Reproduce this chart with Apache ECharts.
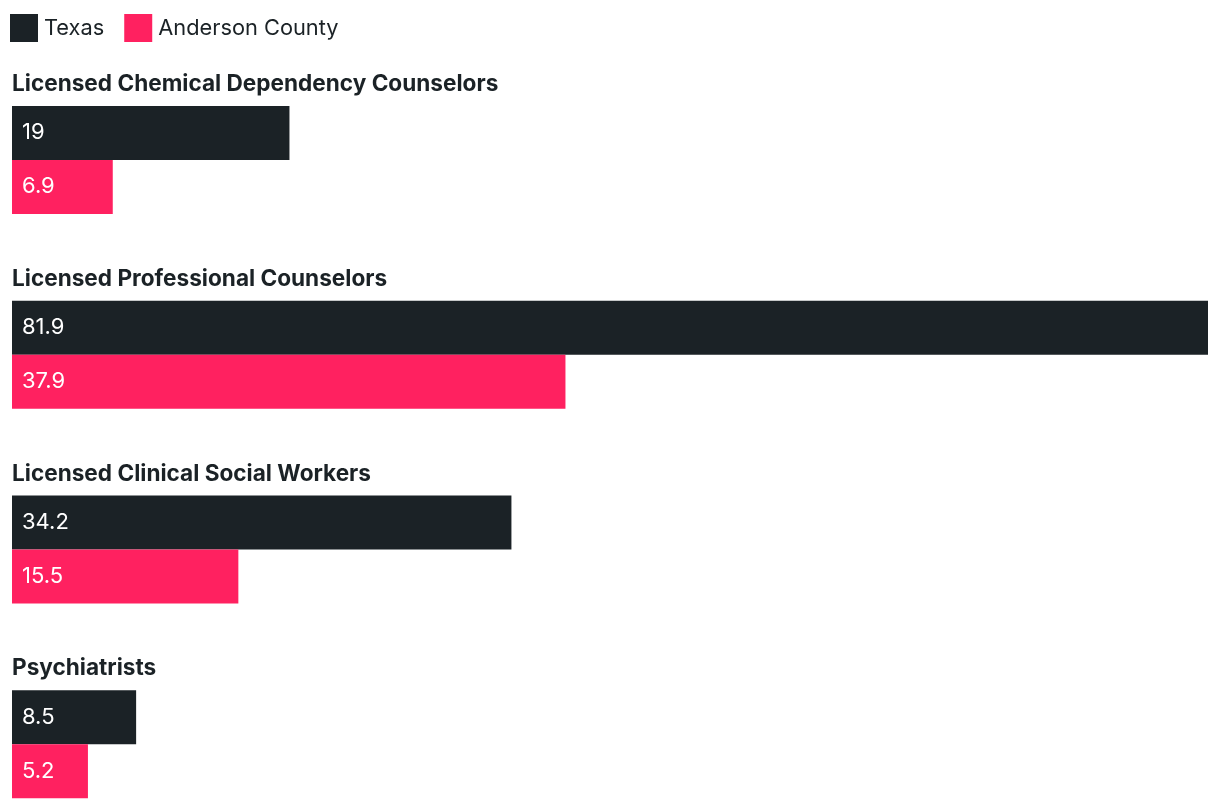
<!DOCTYPE html>
<html>
<head>
<meta charset="utf-8">
<script src="https://cdn.jsdelivr.net/npm/echarts@6/dist/echarts.min.js"></script>
<style>
html,body{margin:0;padding:0;background:#fff;}
#chart{width:1220px;height:808px;}
</style>
</head>
<body>
<div id="chart"></div>
<script>
const categories = [
  "Licensed Chemical Dependency Counselors",
  "Licensed Professional Counselors",
  "Licensed Clinical Social Workers",
  "Psychiatrists"
];
const seriesNames = ["Texas", "Anderson County"];
const texasValues = [19, 81.9, 34.2, 8.5];
const andersonValues = [6.9, 37.9, 15.5, 5.2];

const DARK = '#1b2226';
const PINK = '#ff2160';
const FONT = 'Inter, "Noto Sans", sans-serif';

const chart = echarts.init(document.getElementById('chart'), null, {renderer: 'canvas'});
const valueLabel = {
  show: true,
  position: 'insideLeft',
  distance: 10,
  color: '#ffffff',
  fontFamily: FONT,
  fontSize: 22,
  fontWeight: 400
};
chart.setOption({
  animation: false,
  backgroundColor: '#ffffff',
  textStyle: {fontFamily: FONT},
  legend: {
    left: 5,
    top: 14,
    padding: [0, 5],
    itemWidth: 28,
    itemHeight: 28,
    itemGap: 20,
    icon: 'rect',
    textStyle: {fontFamily: FONT, fontSize: 21.8, color: DARK, padding: [0, 0, 0, 1]},
    data: seriesNames
  },
  grid: {left: 12, right: 12, top: 62.5, bottom: -33.5, containLabel: false, outerBoundsMode: 'none'},
  xAxis: {
    type: 'value',
    min: 0,
    max: 81.9,
    show: false
  },
  yAxis: {
    type: 'category',
    inverse: true,
    data: categories,
    axisLine: {show: false},
    axisTick: {show: false},
    splitLine: {show: false},
    axisLabel: {
      inside: true,
      margin: 0,
      align: 'left',
      verticalAlign: 'bottom',
      padding: [0, 0, 64, 0],
      fontFamily: FONT,
      fontSize: 22.6,
      fontWeight: 700,
      color: DARK
    }
  },
  series: [
    {
      name: seriesNames[0],
      type: 'bar',
      data: texasValues,
      barWidth: 54,
      barGap: '0%',
      itemStyle: {color: DARK},
      label: valueLabel
    },
    {
      name: seriesNames[1],
      type: 'bar',
      data: andersonValues,
      barWidth: 54,
      barGap: '0%',
      itemStyle: {color: PINK},
      label: valueLabel
    }
  ]
});
</script>
</body>
</html>
